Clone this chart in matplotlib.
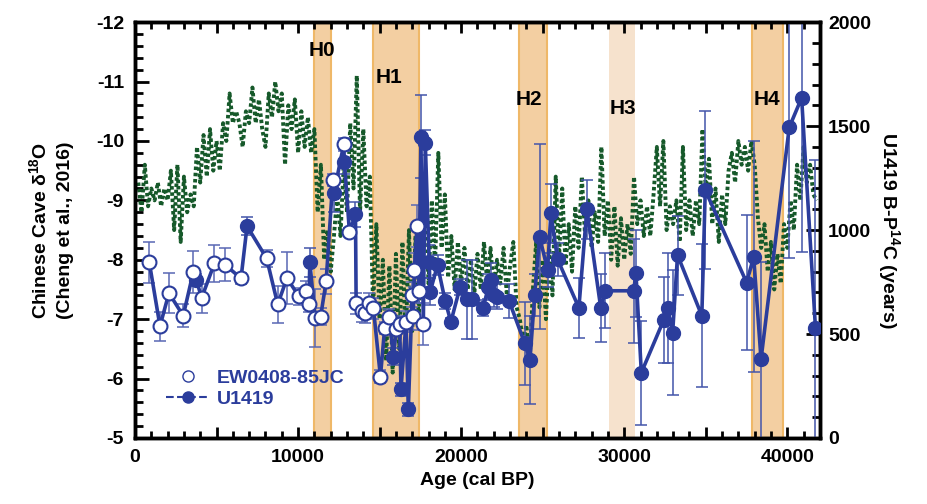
import numpy as np
import matplotlib
matplotlib.use('Agg')
import matplotlib.pyplot as plt
from matplotlib.lines import Line2D
from matplotlib.ticker import MultipleLocator, FuncFormatter

plt.rcParams['font.family'] = ['Liberation Sans', 'DejaVu Sans']
plt.rcParams['font.weight'] = 'bold'
plt.rcParams['mathtext.fontset'] = 'custom'
plt.rcParams['mathtext.rm'] = 'Liberation Sans:bold'
plt.rcParams['mathtext.bf'] = 'Liberation Sans:bold'
plt.rcParams['mathtext.default'] = 'bf'

# Chinese cave d18O (Cheng et al., 2016), read every 200 yr
cave_age = np.arange(200, 41801, 200)
cave_d18o = [
    -9.3, -8.8, -9.6, -8.9, -9.2,
    -9.0, -9.3, -8.9, -9.2, -9.0,
    -9.5, -8.5, -9.6, -8.3, -9.4,
    -8.8, -9.1, -8.9, -9.9, -9.3,
    -10.1, -9.4, -10.2, -9.5, -10.0,
    -9.5, -10.3, -10.0, -10.8, -10.3,
    -10.5, -10.3, -9.9, -10.5, -10.3,
    -10.9, -10.3, -10.7, -10.2, -9.9,
    -10.8, -10.4, -11.0, -10.5, -10.8,
    -9.6, -10.6, -10.2, -10.7, -9.8,
    -10.5, -9.9, -10.4, -9.8, -10.2,
    -8.8, -9.6, -8.0, -8.5, -7.8,
    -8.4, -9.1, -8.4, -9.6, -8.8,
    -10.3, -9.2, -11.1, -8.8, -10.2,
    -8.9, -9.4, -7.2, -8.6, -7.0,
    -8.0, -6.3, -7.9, -6.1, -8.1,
    -6.5, -8.3, -6.6, -8.5, -6.8,
    -8.4, -7.0, -8.6, -9.0, -7.6,
    -9.0, -7.9, -9.8, -8.2, -9.1,
    -7.7, -8.4, -7.5, -8.3, -7.6,
    -8.2, -7.5, -8.0, -7.4, -8.1,
    -7.5, -8.3, -7.6, -8.2, -7.5,
    -8.0, -7.6, -8.2, -7.4, -7.9,
    -8.3, -7.2, -7.0, -6.6, -6.9,
    -6.3, -7.5, -8.3, -7.2, -8.0,
    -7.0, -8.2, -7.4, -9.4, -8.0,
    -9.2, -7.9, -8.6, -7.8, -8.9,
    -8.2, -9.4, -8.4, -9.0, -8.2,
    -8.8, -8.3, -9.9, -8.4, -9.0,
    -8.0, -8.9, -7.9, -8.7, -8.0,
    -8.6, -8.1, -9.4, -8.6, -9.0,
    -8.4, -8.9, -8.4, -9.1, -9.9,
    -8.9, -10.0, -8.5, -8.9, -8.6,
    -9.0, -8.3, -9.9, -8.5, -9.0,
    -8.4, -9.0, -8.6, -10.2, -9.2,
    -9.7, -8.6, -9.2, -8.3, -9.1,
    -8.6, -9.5, -9.8, -9.3, -10.0,
    -9.6, -9.9, -9.5, -10.0, -9.6,
    -8.7, -8.2, -8.6, -7.8, -8.3,
    -7.5, -8.1, -7.6, -8.6, -8.2,
    -9.0, -8.5, -9.6, -9.0, -9.9,
    -9.3, -9.6, -9.1, -9.0,
]

# EW0408-85JC (open circles)
ew_age = [875, 1530, 2080, 2955, 3570, 4080, 4870, 5520, 6500, 8070, 8750, 9320,
          10050, 10500, 10660, 11050, 11380, 11720, 12130, 12800, 13150, 13560,
          13900, 14130, 14330, 14620, 15050, 15310, 15600, 16030, 16230, 16620,
          17000, 17060, 17130, 17290, 17410, 17680]
ew_bp = [845, 538, 697, 588, 797, 673, 840, 833, 768, 864, 643, 769,
         681, 707, 644, 578, 583, 753, 1240, 1412, 990, 648,
         610, 601, 648, 623, 295, 530, 580, 522, 547, 559,
         688, 587, 808, 1019, 708, 547]
ew_err = [100, 70, 95, 55, 100, 70, 90, 80, 25, 40, 90, 125,
          40, 50, 40, 140, 40, 60, 30, 30, 20, 50,
          50, 50, 50, 50, 30, 30, 40, 30, 40, 50,
          60, 70, 80, 100, 60, 100]

# U1419 (filled circles)
u_age = [3770, 6870, 10720, 12190, 12840, 13520, 15840, 16310, 16760, 17530, 17800,
         18040, 18100, 18550, 19020, 19370, 19940, 20350, 20690, 21350, 21670, 21820,
         22020, 22180, 22940, 23900, 24220, 24510, 24810, 25300, 25500, 25910, 27220,
         27710, 28560, 28850, 30580, 30720, 31050, 32420, 32660, 32970, 33270, 34760,
         34970, 37510, 37940, 38390, 40120, 40880, 41730]
u_bp = [760, 1019, 846, 1176, 1329, 1077, 391, 234, 138, 1449, 1420,
        848, 703, 832, 659, 559, 727, 668, 668, 626, 727, 760,
        688, 679, 659, 455, 375, 688, 968, 808, 1080, 860, 626,
        1099, 626, 708, 708, 792, 314, 567, 626, 506, 880, 588,
        1192, 747, 872, 378, 1494, 1636, 527]
u_err = [30, 45, 70, 90, 60, 60, 40, 30, 30, 200, 60,
         80, 65, 50, 40, 20, 40, 190, 190, 40, 60, 80,
         60, 60, 80, 200, 210, 100, 445, 80, 140, 80, 145,
         140, 165, 180, 250, 210, 250, 205, 265, 300, 190, 345,
         380, 325, 555, 470, 630, 740, 810]

# Heinrich events
h_names = ['H0', 'H1', 'H2', 'H3', 'H4']
h_start = [11000, 14600, 23550, 29050, 37850]
h_end = [12000, 17400, 25250, 30650, 39750]
h_label_x = [11450, 15600, 24150, 29900, 38780]
h_label_y = [-11.53, -11.07, -10.69, -10.55, -10.69]

blue = '#2b3d9c'
green = '#16592a'

fig = plt.figure(figsize=(9.28, 5.04), dpi=100)
ax = fig.add_axes([0.1455, 0.131, 0.738, 0.825])
ax2 = ax.twinx()

for i, name in enumerate(h_names):
    if name == 'H3':
        ax.axvspan(h_start[i], h_end[i], facecolor='#f6e2cd', edgecolor='none', zorder=0)
    else:
        ax.axvspan(h_start[i], h_end[i], facecolor='#f3cfa2', edgecolor='#efb868',
                   linewidth=1.5, zorder=0)
    ax.text(h_label_x[i], h_label_y[i], name, fontsize=15, fontweight='bold',
            ha='center', va='center', zorder=3)

ax.plot(cave_age, cave_d18o, color=green, linewidth=2.8, linestyle=(0, (0.9, 0.7)), zorder=2)

ax.set_xlim(0, 42000)
ax.set_ylim(-5, -12)
ax2.set_ylim(0, 2000)

# all B-P points connected in age order
all_age = np.array(ew_age + u_age)
all_bp = np.array(ew_bp + u_bp)
order = np.argsort(all_age)
ax2.errorbar(ew_age, ew_bp, yerr=ew_err, fmt='none', ecolor='#5a68b4', elinewidth=1.3,
             capsize=4, capthick=1.3, alpha=0.85, zorder=2)
ax2.errorbar(u_age, u_bp, yerr=u_err, fmt='none', ecolor='#4455aa', elinewidth=1.3,
             capsize=4, capthick=1.3, alpha=0.85, zorder=2)
ax2.plot(all_age[order], all_bp[order], color=blue, linewidth=2.6, zorder=3)
ax2.plot(u_age, u_bp, 'o', color=blue, markersize=10, zorder=4)
ax2.plot(ew_age, ew_bp, 'o', markerfacecolor='white', markeredgecolor=blue,
         markeredgewidth=1.5, markersize=10, zorder=5)

# ticks
ax.xaxis.set_major_locator(MultipleLocator(5000))
ax.xaxis.set_minor_locator(MultipleLocator(1000))
ax.xaxis.set_major_formatter(FuncFormatter(lambda v, p: '%d' % v if v % 10000 == 0 else ''))
ax.yaxis.set_major_locator(MultipleLocator(1))
ax.yaxis.set_minor_locator(MultipleLocator(0.2))
ax.yaxis.set_major_formatter(FuncFormatter(lambda v, p: '%d' % v))
ax2.yaxis.set_major_locator(MultipleLocator(500))
ax2.yaxis.set_minor_locator(MultipleLocator(100))

ax.tick_params(axis='x', which='both', direction='in', top=True, width=2, labelsize=14, pad=8)
ax.tick_params(axis='x', which='major', length=8)
ax.tick_params(axis='x', which='minor', length=5)
ax.tick_params(axis='y', which='both', direction='in', width=2, labelsize=14, pad=8)
ax.tick_params(axis='y', which='major', length=10)
ax.tick_params(axis='y', which='minor', length=6)
ax2.tick_params(axis='y', which='both', direction='in', width=2, labelsize=14, pad=6)
ax2.tick_params(axis='y', which='major', length=10)
ax2.tick_params(axis='y', which='minor', length=6)

for a in (ax, ax2):
    for s in a.spines.values():
        s.set_linewidth(2.5)

ax.set_xlabel('Age (cal BP)', fontsize=14, fontweight='bold', labelpad=4)
ax.set_ylabel('Chinese Cave δ$^{18}$O\n(Cheng et al., 2016)', fontsize=14,
              fontweight='bold', labelpad=16, linespacing=1.5)
ax2.set_ylabel('U1419 B-P$^{14}$C (years)', fontsize=14, fontweight='bold',
               rotation=270, labelpad=22)

handles = [Line2D([], [], marker='o', linestyle='none', markerfacecolor='white',
                  markeredgecolor=blue, markersize=8),
           Line2D([], [], marker='o', linestyle='--', color=blue, markersize=8, linewidth=1.5)]
leg = ax2.legend(handles, ['EW0408-85JC', 'U1419'], loc='lower left',
                 bbox_to_anchor=(0.02, 0.03), frameon=False, fontsize=14,
                 handlelength=2.2, handletextpad=0.4, labelspacing=0.2)
for t in leg.get_texts():
    t.set_color(blue)
    t.set_fontweight('bold')

fig.savefig('out.png', dpi=100)
